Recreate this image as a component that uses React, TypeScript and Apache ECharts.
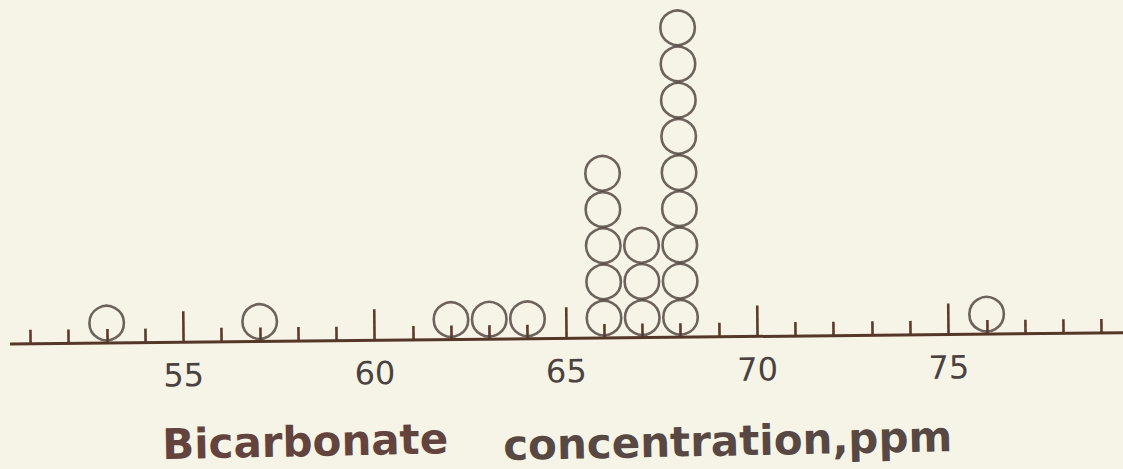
import React, { useEffect, useRef } from "react";
import * as echarts from "echarts";

// Dot plot: bicarbonate concentration (ppm) and number of samples at each value
const concentrations = [53, 57, 62, 63, 64, 66, 67, 68, 76];
const counts = [1, 1, 1, 1, 1, 5, 3, 9, 1];
const tickLabels = [55, 60, 65, 70, 75];
const titleWords = ["Bicarbonate", "concentration,ppm"];

const ROT_DEG = -0.58;

export default function App() {
  const ref = useRef<HTMLDivElement>(null);

  useEffect(() => {
    if (!ref.current) return;
    const chart = echarts.init(ref.current, null, { renderer: "svg" });

    const points: number[][] = [];
    concentrations.forEach((v, i) => {
      for (let k = 1; k <= counts[i]; k++) points.push([v, k]);
    });

    const rot = (-ROT_DEG * Math.PI) / 180; // counter CSS rotation for the title
    const axisColor = "#553729";
    const tickColor = "#5e3a2c";

    chart.setOption({
      animation: false,
      backgroundColor: "transparent",
      grid: {
        left: -9,
        right: -15.8,
        top: 0,
        bottom: 130.6,
        containLabel: false,
        outerBoundsMode: "none",
      },
      xAxis: {
        type: "value",
        min: 50,
        max: 80,
        interval: 5,
        axisLine: { show: false, onZero: false },
        axisTick: { show: true, inside: true, length: 31, lineStyle: { color: tickColor, width: 2.6 } },
        minorTick: { show: true, splitNumber: 5, length: 14, lineStyle: { color: tickColor, width: 2.6 } },
        splitLine: { show: false },
        minorSplitLine: { show: false },
        axisLabel: {
          show: true,
          margin: 17,
          fontSize: 32,
          fontFamily: "DejaVu Sans",
          color: "#4a4141",
          formatter: (v: number) => (tickLabels.indexOf(v) >= 0 ? String(v) : ""),
        },
      },
      yAxis: {
        type: "value",
        min: 0.45,
        max: 9.8,
        show: false,
        splitLine: { show: false },
      },
      graphic: [
        {
          type: "line",
          shape: { x1: 9, y1: 338.4, x2: 1145, y2: 338.4 },
          style: { stroke: axisColor, lineWidth: 3 },
          z: 10,
        },
        {
          type: "text",
          x: 160,
          y: 440.5,
          rotation: rot,
          style: {
            text: titleWords[0],
            font: "bold 42px 'DejaVu Sans'",
            fill: "#63433e",
            align: "left",
            verticalAlign: "middle",
            textAlign: "left",
            textVerticalAlign: "middle",
          },
        },
        {
          type: "text",
          x: 501,
          y: 445,
          rotation: rot,
          style: {
            text: titleWords[1],
            font: "bold 42px 'DejaVu Sans'",
            fill: "#574843",
            align: "left",
            verticalAlign: "middle",
            textAlign: "left",
            textVerticalAlign: "middle",
          },
        },
      ],
      series: [
        {
          type: "scatter",
          data: points,
          symbol: "circle",
          symbolSize: 34.5,
          silent: true,
          itemStyle: { color: "rgba(0,0,0,0)", borderColor: "#4b3e39", borderWidth: 2.6 },
          emphasis: { disabled: true },
          z: 5,
        },
      ],
    });

    return () => chart.dispose();
  }, []);

  return (
    <div
      style={{
        position: "fixed",
        left: 0,
        top: 0,
        width: 1123,
        height: 469,
        background: "#f6f4e6",
        overflow: "hidden",
      }}
    >
      <div
        ref={ref}
        style={{
          width: 1123,
          height: 469,
          transform: `rotate(${ROT_DEG}deg)`,
          transformOrigin: "50% 50%",
        }}
      />
    </div>
  );
}
